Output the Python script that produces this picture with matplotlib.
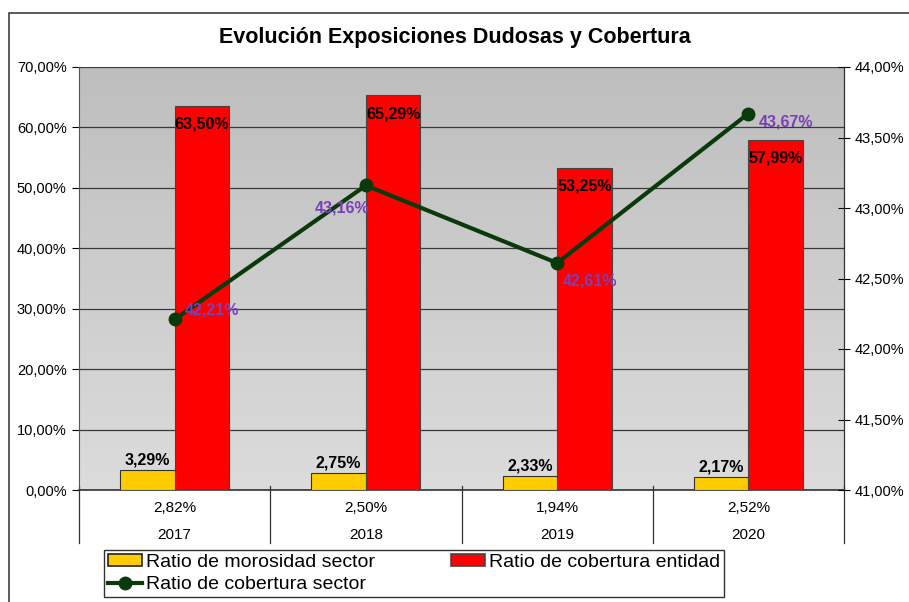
import matplotlib
matplotlib.use("Agg")
import matplotlib.pyplot as plt
import numpy as np
from matplotlib.colors import LinearSegmentedColormap
from matplotlib.lines import Line2D
from matplotlib.patches import Patch, Rectangle
from matplotlib.ticker import FuncFormatter, MultipleLocator

plt.rcParams['font.family'] = ['Liberation Sans', 'DejaVu Sans']

# data
years = ['2017', '2018', '2019', '2020']
mor_sector = [3.29, 2.75, 2.33, 2.17]        # Ratio de morosidad sector (%)
cob_entidad = [63.50, 65.29, 53.25, 57.99]   # Ratio de cobertura entidad (%)
cob_sector = [42.21, 43.16, 42.61, 43.67]    # Ratio de cobertura sector (%), right axis
table_row = [2.82, 2.50, 1.94, 2.52]         # values shown under the axis

# label offsets for the line labels (points)
lbl_off = [(27, 7), (-17, -16), (24, -13), (27, -6)]

yellow = '#FFCC00'
red = '#FF0000'
green = '#0A3A0A'
purple = '#7B3FB8'


def pct(v, pos=None):
    return ('%.2f%%' % v).replace('.', ',')


fig = plt.figure(figsize=(9.09, 6.02), dpi=100)
fig.patch.set_facecolor('white')
fig.patches.append(Rectangle((9 / 909, -0.2), 2, 1 - 13 / 602 + 0.2, transform=fig.transFigure,
                             fill=False, edgecolor='#404040', linewidth=1.2))

ax = fig.add_axes([79 / 909, 112 / 602, 765 / 909, 423 / 602])
ax.patch.set_visible(False)

# gradient background
grad = np.linspace(0, 1, 256).reshape(-1, 1)
cmap = LinearSegmentedColormap.from_list('bg', ['#BEBEBE', '#DCDCDC'])
ax.imshow(grad, cmap=cmap, extent=[0, 1, 0, 1], transform=ax.transAxes,
          aspect='auto', zorder=0)

x = np.arange(len(years))
w = 0.285
ax.bar(x - w / 2, mor_sector, w, color=yellow, edgecolor='#333333', linewidth=0.8, zorder=3)
ax.bar(x + w / 2, cob_entidad, w, color=red, edgecolor='#444444', linewidth=0.8, zorder=3)

ax.set_xlim(-0.5, 3.5)
ax.set_ylim(0, 70)
ax.yaxis.set_major_locator(MultipleLocator(10))
ax.yaxis.set_major_formatter(FuncFormatter(pct))
ax.grid(axis='y', color='#3A3A3A', linewidth=0.9, zorder=1)
ax.set_axisbelow(True)
ax.set_xticks([])
ax.tick_params(axis='y', direction='out', length=5, labelsize=10.5, pad=4)

ax.spines['top'].set_visible(False)
ax.spines['left'].set_color('#555555')
ax.spines['bottom'].set_color('#333333')
ax.spines['bottom'].set_linewidth(1.2)

for i in range(len(years)):
    ax.annotate(pct(mor_sector[i]), (x[i] - w / 2, mor_sector[i]), xytext=(0, 2),
                textcoords='offset points', ha='center', va='bottom',
                fontsize=11.5, fontweight='bold', zorder=5)
    ax.annotate(pct(cob_entidad[i]), (x[i] + w / 2, cob_entidad[i]), xytext=(0, -13),
                textcoords='offset points', ha='center', va='center',
                fontsize=11.5, fontweight='bold', zorder=5)

# table under the axis
tr = ax.get_xaxis_transform()
for b in np.arange(-0.5, 4.0, 1.0):
    ax.plot([b, b], [0.01, -0.125], transform=tr, color='#333333', linewidth=0.9, clip_on=False)
for i in range(len(years)):
    ax.text(x[i], -0.043, pct(table_row[i]), transform=tr, ha='center', va='center', fontsize=11)
    ax.text(x[i], -0.106, years[i], transform=tr, ha='center', va='center', fontsize=11)

# secondary axis: line
ax2 = ax.twinx()
ax2.plot(x, cob_sector, color=green, linewidth=3, marker='o', markersize=9, zorder=6)
ax2.set_ylim(41, 44)
ax2.yaxis.set_major_locator(MultipleLocator(0.5))
ax2.yaxis.set_major_formatter(FuncFormatter(pct))
ax2.tick_params(axis='y', direction='inout', length=8, labelsize=10.5, pad=4)
ax2.spines['top'].set_visible(False)
ax2.spines['left'].set_visible(False)
ax2.spines['right'].set_color('#333333')
ax2.spines['bottom'].set_visible(False)
for i in range(len(years)):
    ax2.annotate(pct(cob_sector[i]), (x[i], cob_sector[i]), xytext=lbl_off[i],
                 textcoords='offset points', ha='center', va='center',
                 fontsize=11.5, fontweight='bold', color=purple, zorder=7)

fig.text(0.5, 1 - 37 / 602, 'Evolución Exposiciones Dudosas y Cobertura',
         ha='center', va='center', fontsize=15.5, fontweight='bold')

handles = [Patch(facecolor=yellow, edgecolor='#222222', linewidth=1.2),
           Line2D([0], [0], color=green, linewidth=3, marker='o', markersize=9),
           Patch(facecolor=red, edgecolor='#444444', linewidth=1.2)]
labels = ['Ratio de morosidad sector', 'Ratio de cobertura sector', 'Ratio de cobertura entidad']
leg = fig.legend(handles, labels, ncol=2, loc='lower left',
                 bbox_to_anchor=(104 / 909, 5 / 602), fontsize=14, frameon=True,
                 fancybox=False, edgecolor='black', borderpad=0.22, handlelength=1.75,
                 handleheight=0.5, handletextpad=0.2, columnspacing=3.9, labelspacing=0.25,
                 borderaxespad=0)
leg.get_frame().set_linewidth(1.0)

fig.savefig('out.png', dpi=100)
